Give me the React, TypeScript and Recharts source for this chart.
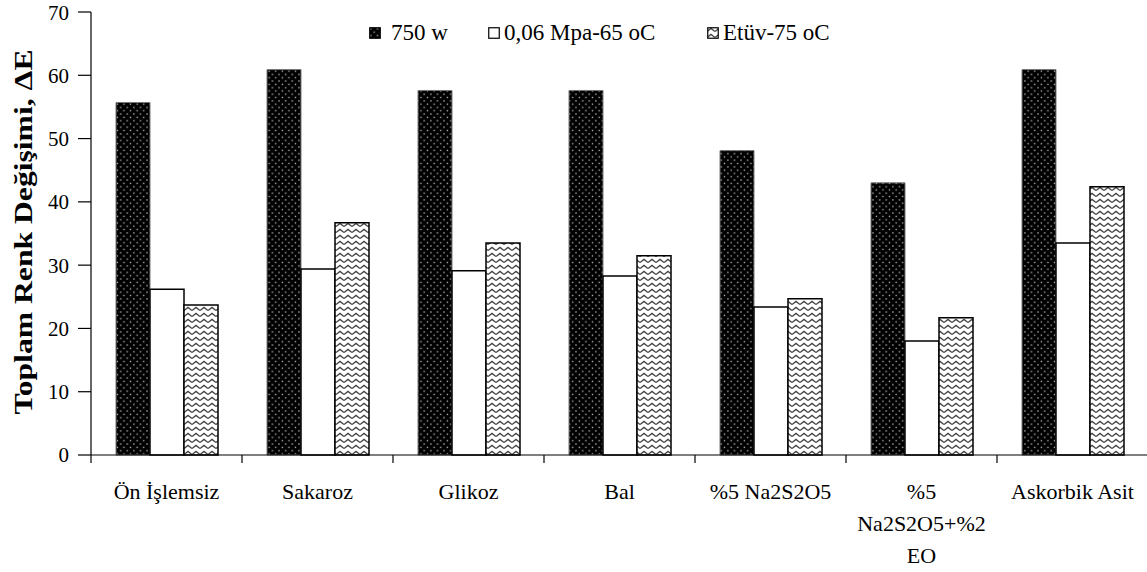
import React from 'react';
import { BarChart, Bar, XAxis, YAxis, Legend } from 'recharts';

// Toplam renk değişimi (ΔE) by pre-treatment and drying method
const categories = [
  'Ön İşlemsiz',
  'Sakaroz',
  'Glikoz',
  'Bal',
  '%5 Na2S2O5',
  '%5 Na2S2O5+%2 EO',
  'Askorbik Asit',
];
const categoryLines = [
  ['Ön İşlemsiz'],
  ['Sakaroz'],
  ['Glikoz'],
  ['Bal'],
  ['%5 Na2S2O5'],
  ['%5', 'Na2S2O5+%2', 'EO'],
  ['Askorbik Asit'],
];
const microwave750w = [55.7, 60.9, 57.6, 57.6, 48.1, 43.0, 60.9];
const vacuum65 = [26.2, 29.4, 29.1, 28.3, 23.4, 18.0, 33.5];
const oven75 = [23.7, 36.7, 33.5, 31.5, 24.7, 21.7, 42.4];
const seriesKeys = ['mw', 'vac', 'oven'];
const seriesNames = ['750 w', '0,06 Mpa-65 oC', 'Etüv-75 oC'];
const yTicks = [0, 10, 20, 30, 40, 50, 60, 70];
const yLabel = 'Toplam Renk Değişimi, ΔE';

const data = categories.map((name, i) => ({
  name,
  mw: microwave750w[i],
  vac: vacuum65[i],
  oven: oven75[i],
}));

const FONT = 'Liberation Serif';

const seriesStyle: Record<string, { fill: string; stroke: string; strokeWidth: number }> = {
  mw: { fill: 'url(#dotsFill)', stroke: '#777', strokeWidth: 1 },
  vac: { fill: '#ffffff', stroke: '#000', strokeWidth: 1.5 },
  oven: { fill: 'url(#zigzagFill)', stroke: '#000', strokeWidth: 1.5 },
};

const legendLeft = [369, 488, 707];

const PatternDefs = () => (
  <svg width="0" height="0" style={{ position: 'absolute' }}>
    <defs>
      <pattern id="dotsFill" width="6.6" height="6.6" patternUnits="userSpaceOnUse">
        <rect width="6.6" height="6.6" fill="#000" />
        <rect x="1.2" y="1.2" width="1.3" height="1.3" fill="#c8c8c8" />
        <rect x="4.5" y="4.5" width="1.3" height="1.3" fill="#c8c8c8" />
      </pattern>
      <pattern id="zigzagFill" width="8" height="6" patternUnits="userSpaceOnUse">
        <rect width="8" height="6" fill="#fff" />
        <path d="M0,4.6 L4,1.4 L8,4.6" fill="none" stroke="#444" strokeWidth="1.3" />
      </pattern>
    </defs>
  </svg>
);

const CategoryTick = (props: any) => {
  const { x, y, payload, index, width, visibleTicksCount } = props;
  const half =
    payload && typeof payload.offset === 'number' && payload.offset > 0
      ? payload.offset
      : width / (visibleTicksCount || categories.length) / 2;
  const lines = categoryLines[payload.index ?? index] || [String(payload.value)];
  return (
    <g>
      {index === 0 && (
        <line x1={x - half} y1={y} x2={x - half} y2={y + 8} stroke="#000" strokeWidth={1.2} />
      )}
      <line x1={x + half} y1={y} x2={x + half} y2={y + 8} stroke="#000" strokeWidth={1.2} />
      <text x={x} y={y + 44} textAnchor="middle" style={{ fontFamily: FONT, fontSize: 22 }} fill="#000">
        {lines.map((ln: string, i: number) => (
          <tspan key={i} x={x} dy={i === 0 ? 0 : 32}>
            {ln}
          </tspan>
        ))}
      </text>
    </g>
  );
};

const YTitle = () => (
  <text
    transform="translate(32, 232) rotate(-90)"
    textAnchor="middle"
    style={{ fontFamily: FONT, fontWeight: 'bold', fontSize: 25 }}
    textLength={365}
    lengthAdjust="spacingAndGlyphs"
    fill="#000"
  >
    {yLabel}
  </text>
);

const LegendContent = () => (
  <div style={{ position: 'relative', width: 1147, height: 30, fontFamily: FONT }}>
    {seriesKeys.map((k, i) => (
      <div
        key={k}
        style={{
          position: 'absolute',
          left: legendLeft[i],
          top: 0,
          display: 'flex',
          alignItems: 'center',
          height: 24,
          whiteSpace: 'nowrap',
        }}
      >
        <svg width={12} height={12} style={{ marginRight: i === 0 ? 10 : 4 }}>
          <rect
            x={0.75}
            y={0.75}
            width={10.5}
            height={10.5}
            fill={seriesStyle[k].fill}
            stroke="#000"
            strokeWidth={1.2}
          />
        </svg>
        <span style={{ fontSize: 23, color: '#000', lineHeight: '24px', fontFamily: FONT }}>
          {seriesNames[i]}
        </span>
      </div>
    ))}
  </div>
);

export default function App() {
  return (
    <div
      style={{
        width: 1147,
        height: 572,
        overflow: 'hidden',
        position: 'relative',
        background: '#fff',
        fontFamily: FONT,
      }}
    >
      <style>{`body{margin:0;background:#fff;}`}</style>
      <PatternDefs />
      <BarChart
        width={1150}
        height={572}
        data={data}
        margin={{ top: 12, right: 2, left: 0, bottom: 17 }}
        barGap={0}
        barSize={34}
        style={{ fontFamily: FONT }}
      >
        <XAxis
          dataKey="name"
          interval={0}
          tickLine={false}
          tickSize={0}
          tickMargin={0}
          height={100}
          axisLine={{ stroke: '#000', strokeWidth: 1.2 }}
          tick={<CategoryTick />}
        />
        <YAxis
          domain={[0, 70]}
          ticks={yTicks}
          width={91}
          tickSize={13}
          tickMargin={9}
          axisLine={{ stroke: '#000', strokeWidth: 1.2 }}
          tickLine={{ stroke: '#000', strokeWidth: 1.2 }}
          tick={{ fill: '#000', fontSize: 21, style: { fontFamily: FONT } }}
          label={{ content: () => <YTitle /> }}
        />
        <Legend
          layout="horizontal"
          verticalAlign="middle"
          align="center"
          content={() => <LegendContent />}
          wrapperStyle={{ position: 'absolute', top: 21, left: 0, width: 1147, height: 30 }}
        />
        {seriesKeys.map((k, i) => (
          <Bar
            key={k}
            dataKey={k}
            name={seriesNames[i]}
            fill={seriesStyle[k].fill}
            stroke={seriesStyle[k].stroke}
            strokeWidth={seriesStyle[k].strokeWidth}
            isAnimationActive={false}
          />
        ))}
      </BarChart>
    </div>
  );
}
